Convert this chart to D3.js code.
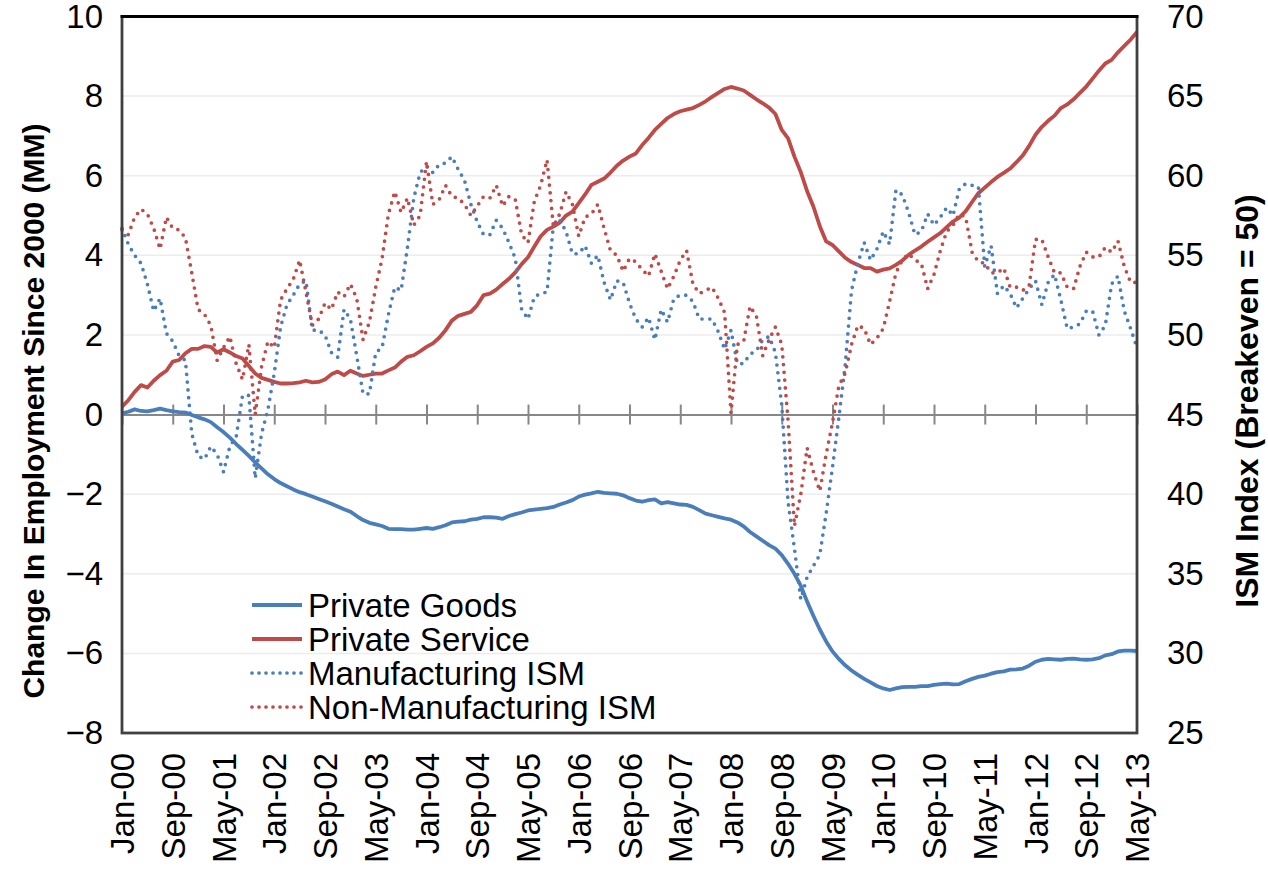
<!DOCTYPE html>
<html>
<head>
<meta charset="utf-8">
<script src="https://cdnjs.cloudflare.com/ajax/libs/d3/7.8.5/d3.min.js"></script>
<style>
  html, body { margin: 0; padding: 0; background: #fff; }
  svg { display: block; }
  text { font-family: "Liberation Sans", Arial, sans-serif; fill: #000; }
</style>
</head>
<body>
<svg id="chart" width="1268" height="872"></svg>
<script>
// Monthly series, Jan-2000 .. May-2013 (one row per year)

// Change in private goods-producing employment since Jan 2000, millions
const privateGoods = [
  0.03, 0.07, 0.13, 0.09, 0.08, 0.11, 0.15, 0.11, 0.08, 0.06, 0.05, -0.01,
  -0.07, -0.12, -0.19, -0.32, -0.44, -0.58, -0.74, -0.89, -1.04, -1.2, -1.35, -1.5,
  -1.62, -1.72, -1.8, -1.88, -1.95, -2.0, -2.06, -2.12, -2.18, -2.24, -2.31, -2.38,
  -2.44, -2.55, -2.65, -2.72, -2.76, -2.8, -2.87, -2.88, -2.88, -2.89, -2.89, -2.87,
  -2.85, -2.87, -2.83, -2.78, -2.71, -2.69, -2.68, -2.64, -2.62, -2.58, -2.58, -2.59,
  -2.62, -2.55, -2.5, -2.46, -2.41, -2.39, -2.37, -2.35, -2.32, -2.26, -2.21, -2.15,
  -2.06, -2.01, -1.98, -1.94, -1.97, -1.98, -1.99, -2.03, -2.1, -2.16, -2.19, -2.15,
  -2.13, -2.23, -2.2, -2.23, -2.26, -2.27, -2.32, -2.4, -2.49, -2.53, -2.57, -2.61,
  -2.64, -2.71, -2.81, -2.95, -3.06, -3.17, -3.28, -3.37, -3.53, -3.75, -4.0, -4.3,
  -4.7, -5.06, -5.4, -5.7, -5.95, -6.14, -6.3, -6.43, -6.54, -6.64, -6.73, -6.82,
  -6.88, -6.92, -6.88, -6.85, -6.84, -6.84, -6.82, -6.82, -6.79, -6.77, -6.76, -6.78,
  -6.77, -6.7, -6.64, -6.59, -6.56, -6.51, -6.47, -6.45, -6.41, -6.4, -6.38, -6.31,
  -6.21, -6.16, -6.14, -6.15, -6.16, -6.14, -6.13, -6.15, -6.16, -6.15, -6.12, -6.05,
  -6.02, -5.95, -5.93, -5.93, -5.94
];

// Change in private service-providing employment since Jan 2000, millions
const privateService = [
  0.2, 0.36, 0.57, 0.74, 0.68, 0.85, 0.99, 1.1, 1.33, 1.37, 1.54, 1.65,
  1.65, 1.72, 1.7, 1.56, 1.64, 1.56, 1.47, 1.41, 1.22, 1.03, 0.92, 0.87,
  0.82, 0.78, 0.78, 0.79, 0.81, 0.85, 0.81, 0.82, 0.88, 1.01, 1.08, 0.99,
  1.1, 1.03, 0.97, 1.0, 1.03, 1.03, 1.11, 1.18, 1.33, 1.45, 1.49, 1.59,
  1.7, 1.79, 1.93, 2.12, 2.36, 2.48, 2.53, 2.58, 2.75, 3.0, 3.04, 3.14,
  3.28, 3.41, 3.57, 3.78, 3.95, 4.22, 4.48, 4.64, 4.72, 4.82, 5.0, 5.1,
  5.31, 5.53, 5.77, 5.85, 5.93, 6.08, 6.25, 6.38, 6.48, 6.56, 6.77, 6.95,
  7.15, 7.3, 7.45, 7.55, 7.62, 7.66, 7.7, 7.78, 7.87, 7.98, 8.08, 8.18,
  8.23, 8.19, 8.14, 8.03, 7.92, 7.82, 7.71, 7.55, 7.15, 6.94, 6.48, 6.09,
  5.61, 5.22, 4.73, 4.35, 4.26, 4.1, 3.94, 3.83, 3.76, 3.68, 3.68, 3.59,
  3.64, 3.67, 3.76, 3.87, 4.01, 4.12, 4.22, 4.34, 4.45, 4.56, 4.71, 4.85,
  4.95, 5.11, 5.34, 5.56, 5.7, 5.84, 5.97, 6.07, 6.18, 6.34, 6.51, 6.75,
  7.03, 7.23, 7.38, 7.51, 7.7, 7.79, 7.92, 8.08, 8.24, 8.44, 8.64, 8.82,
  8.91, 9.1, 9.26, 9.42, 9.61
];

// ISM manufacturing index
const manufacturingISM = [
  56.7, 55.7, 55.0, 54.5, 53.2, 51.5, 52.3, 50.1, 49.6, 48.7, 48.4, 43.8,
  42.4, 42.2, 43.0, 42.5, 41.4, 43.0, 43.6, 46.2, 46.2, 41.0, 43.8, 45.3,
  47.6, 50.5, 51.9, 52.5, 53.2, 53.4, 50.3, 50.3, 50.0, 48.9, 48.6, 51.6,
  51.0, 48.7, 46.3, 46.3, 48.9, 49.2, 51.3, 53.0, 52.8, 55.5, 58.6, 60.2,
  60.6, 60.2, 60.7, 60.8, 61.2, 60.4, 59.7, 58.2, 57.1, 56.3, 56.3, 57.2,
  56.7, 55.8, 54.8, 51.6, 51.0, 52.4, 52.6, 52.7, 56.9, 57.2, 56.5, 55.1,
  55.1, 55.6, 54.5, 55.0, 53.3, 52.2, 53.4, 53.3, 52.0, 51.0, 50.5, 51.1,
  49.7, 51.6, 50.8, 52.3, 52.5, 52.5, 52.1, 51.0, 51.0, 51.0, 50.2, 49.1,
  50.3, 48.2, 48.2, 48.8, 49.0, 49.7, 49.9, 48.9, 45.6, 39.5, 36.6, 33.4,
  34.8, 35.5, 36.2, 38.8, 41.7, 44.8, 48.1, 52.8, 54.5, 55.8, 54.7, 55.4,
  56.5, 55.7, 59.1, 58.8, 57.7, 56.3, 56.5, 57.6, 56.9, 57.4, 58.0, 57.5,
  59.2, 59.5, 59.4, 59.3, 54.3, 55.6, 52.6, 53.1, 52.6, 51.7, 52.3, 52.9,
  53.4, 51.9, 53.3, 53.8, 52.2, 50.4, 50.5, 50.7, 51.5, 51.5, 50.0, 50.6,
  53.2, 53.7, 51.5, 50.4, 49.2
];

// ISM non-manufacturing index
const nonManufacturingISM = [
  56.6, 56.3, 57.4, 57.9, 57.6, 56.7, 55.4, 57.4, 56.7, 56.6, 56.1, 53.9,
  51.6, 51.3, 50.6, 48.4, 49.2, 49.9, 48.2, 47.2, 49.4, 45.0, 48.0, 49.6,
  49.2, 52.2, 52.9, 53.5, 54.7, 52.7, 50.6, 51.0, 52.0, 51.6, 52.7, 52.4,
  53.2, 52.3, 49.7, 50.8, 53.0, 54.8, 57.6, 59.0, 57.7, 58.6, 56.9, 57.5,
  60.9, 58.2, 58.5, 59.4, 58.7, 58.6, 58.2, 57.5, 58.1, 58.7, 58.6, 59.4,
  58.1, 58.7, 58.5, 56.3, 55.8, 58.4, 59.4, 61.0, 56.8, 57.6, 59.0, 58.2,
  56.2, 57.4, 57.6, 58.2, 56.7, 55.3, 55.0, 54.0, 54.8, 54.6, 54.1, 53.7,
  55.1, 54.0, 52.9, 53.7, 54.7, 55.3, 53.2, 52.6, 52.8, 53.0, 52.3, 51.4,
  45.1, 49.4, 49.6, 51.8, 51.2, 48.7, 49.7, 50.5, 49.4, 44.6, 38.0, 40.0,
  42.9, 41.4, 40.2, 42.5, 44.5, 46.8, 47.6, 49.4, 50.6, 50.4, 49.4, 49.8,
  50.4, 52.1, 53.9, 54.7, 55.1, 54.7, 54.5, 52.9, 53.8, 55.3, 56.5, 56.9,
  57.6, 57.4, 55.2, 54.6, 54.5, 53.9, 53.9, 54.2, 53.0, 53.0, 52.8, 53.1,
  56.0, 56.0, 54.9, 53.9, 53.9, 53.0, 52.9, 54.3, 55.2, 54.9, 54.9, 55.5,
  55.2, 55.9, 54.3, 53.3, 53.3
];

// Category-axis labels, one every 8 months starting Jan-00
const tickLabels = [
  "Jan-00", "Sep-00", "May-01", "Jan-02", "Sep-02", "May-03", "Jan-04",
  "Sep-04", "May-05", "Jan-06", "Sep-06", "May-07", "Jan-08", "Sep-08",
  "May-09", "Jan-10", "Sep-10", "May-11", "Jan-12", "Sep-12", "May-13"
];
const tickStep = 8;

const leftTicks = [-8, -6, -4, -2, 0, 2, 4, 6, 8, 10];
const rightTicks = [25, 30, 35, 40, 45, 50, 55, 60, 65, 70];

const leftTitle = "Change In Employment Since 2000 (MM)";
const rightTitle = "ISM Index (Breakeven = 50)";

const seriesNames = ["Private Goods", "Private Service", "Manufacturing ISM", "Non-Manufacturing ISM"];

// ---- layout ----
const blue = "#4A7EBB";
const red = "#BE4B48";
const plot = { left: 122, right: 1137, top: 16.5, bottom: 733 };
const labelSize = "33px";

const svg = d3.select("#chart");

const n = privateGoods.length;
const x = d3.scaleLinear().domain([0, n - 1]).range([plot.left, plot.right]);
const yL = d3.scaleLinear().domain([-8, 10]).range([plot.bottom, plot.top]);
const yR = d3.scaleLinear().domain([25, 70]).range([plot.bottom, plot.top]);

// horizontal gridlines
svg.append("g")
  .selectAll("line")
  .data(leftTicks.filter(v => v !== 0 && v !== -8 && v !== 10))
  .join("line")
  .attr("x1", plot.left).attr("x2", plot.right)
  .attr("y1", d => yL(d)).attr("y2", d => yL(d))
  .attr("stroke", "#ececec").attr("stroke-width", 1.5);

// zero line with crossing tick marks
const tickIdx = d3.range(0, n, tickStep);
const zeroAxis = svg.append("g")
  .attr("transform", `translate(0,${yL(0)})`)
  .call(d3.axisBottom(x).tickValues(tickIdx).tickFormat("").tickSizeOuter(0).tickSizeInner(10));
zeroAxis.select(".domain").attr("stroke", "#878787").attr("stroke-width", 2);
zeroAxis.selectAll(".tick line").attr("y1", -10).attr("y2", 10)
  .attr("stroke", "#878787").attr("stroke-width", 2);

// series lines
const lineL = d3.line().x((d, i) => x(i)).y(d => yL(d));
const lineR = d3.line().x((d, i) => x(i)).y(d => yR(d));

const solidStyle = sel => sel.attr("fill", "none").attr("stroke-width", 3.8)
  .attr("stroke-linejoin", "round").attr("stroke-linecap", "butt");
const dotStyle = sel => sel.attr("fill", "none").attr("stroke-width", 3.7)
  .attr("stroke-dasharray", "0 7.8").attr("stroke-linecap", "round");

svg.append("path").datum(privateGoods).attr("d", lineL).attr("stroke", blue).call(solidStyle);
svg.append("path").datum(privateService).attr("d", lineL).attr("stroke", red).call(solidStyle);
svg.append("path").datum(manufacturingISM).attr("d", lineR).attr("stroke", blue).call(dotStyle);
svg.append("path").datum(nonManufacturingISM).attr("d", lineR).attr("stroke", red).call(dotStyle);

// plot frame
svg.append("rect")
  .attr("x", plot.left).attr("y", plot.top)
  .attr("width", plot.right - plot.left).attr("height", plot.bottom - plot.top)
  .attr("fill", "none").attr("stroke", "#404040").attr("stroke-width", 2.8);
svg.append("line")
  .attr("x1", plot.left - 1.4).attr("x2", plot.right + 1.4)
  .attr("y1", plot.top).attr("y2", plot.top)
  .attr("stroke", "#000").attr("stroke-width", 3);

// value labels use a true minus sign for negatives
const signed = d => (d < 0 ? "\u2212" + Math.abs(d) : String(d));

// left axis
const gL = svg.append("g")
  .attr("transform", `translate(${plot.left},0)`)
  .call(d3.axisLeft(yL).tickValues(leftTicks).tickFormat(signed).tickSize(0).tickPadding(19));
gL.select(".domain").remove();
gL.selectAll("text").style("font-size", labelSize).attr("font-family", null).attr("fill", "#000");

// right axis
const gR = svg.append("g")
  .attr("transform", `translate(${plot.right},0)`)
  .call(d3.axisRight(yR).tickValues(rightTicks).tickFormat(signed).tickSize(0).tickPadding(30));
gR.select(".domain").remove();
gR.selectAll("text").style("font-size", labelSize).attr("font-family", null).attr("fill", "#000");

// category labels along the bottom
const gB = svg.append("g")
  .attr("transform", `translate(0,${plot.bottom})`)
  .call(d3.axisBottom(x).tickValues(tickIdx).tickFormat((d, i) => tickLabels[i]).tickSize(0));
gB.select(".domain").remove();
gB.selectAll("text")
  .style("font-size", labelSize).attr("font-family", null).attr("fill", "#000")
  .attr("text-anchor", "end")
  .attr("transform", "rotate(-90)")
  .attr("x", -20).attr("y", 0).attr("dy", "0.35em");

// axis titles
svg.append("text")
  .attr("transform", "translate(33,411) rotate(-90)")
  .attr("text-anchor", "middle").attr("dominant-baseline", "central")
  .style("font-size", "30px").style("font-weight", "bold")
  .text(leftTitle);
svg.append("text")
  .attr("transform", "translate(1247,401) rotate(-90)")
  .attr("text-anchor", "middle").attr("dominant-baseline", "central")
  .style("font-size", "32px").style("font-weight", "bold")
  .text(rightTitle);

// legend
const legendRows = [
  { name: seriesNames[0], color: blue, dotted: false },
  { name: seriesNames[1], color: red, dotted: false },
  { name: seriesNames[2], color: blue, dotted: true },
  { name: seriesNames[3], color: red, dotted: true }
];
const legend = svg.append("g").attr("transform", "translate(252,605)");
const rows = legend.selectAll("g").data(legendRows).join("g")
  .attr("transform", (d, i) => `translate(0,${i * 34})`);
rows.append("line")
  .attr("x1", 0).attr("x2", 50).attr("y1", 0).attr("y2", 0)
  .attr("stroke", d => d.color)
  .each(function (d) {
    const s = d3.select(this);
    if (d.dotted) s.call(dotStyle).attr("stroke-dasharray", "0 7");
    else s.call(solidStyle);
  });
rows.append("text")
  .attr("x", 56).attr("y", 0).attr("dy", "0.35em")
  .style("font-size", labelSize)
  .text(d => d.name);
</script>
</body>
</html>
